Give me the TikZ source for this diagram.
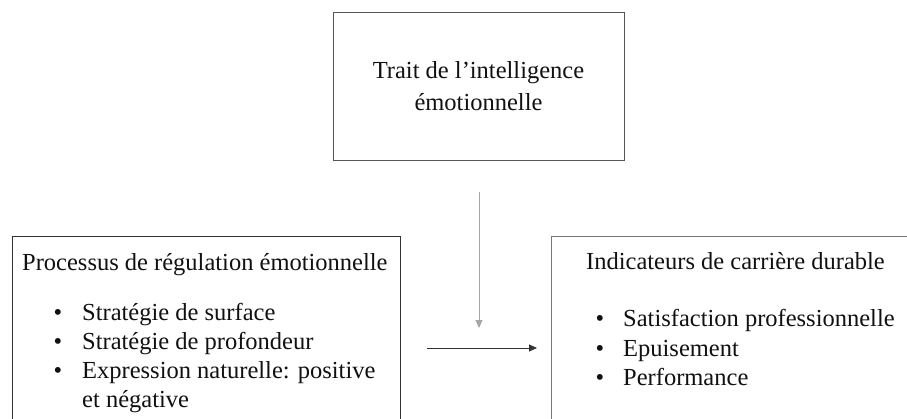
\documentclass[tikz,border=0pt]{standalone}
\usepackage{fontspec}
\setmainfont{Liberation Serif}
\usetikzlibrary{arrows.meta, positioning}
\definecolor{ink}{HTML}{111111}
\definecolor{framedark}{HTML}{333333}
\definecolor{framemid}{HTML}{555555}
\definecolor{framesoft}{HTML}{777777}
\definecolor{arrowsoft}{HTML}{A6A6A6}
\tikzset{
  font=\fontsize{24.5}{29}\selectfont,
  >={Triangle[length=8pt, width=7pt]},
  %
  panel/.style={draw=framemid, line width=1.2pt, fill=white, inner sep=0pt,
                anchor=north west},
  txt/.style={anchor=base west, inner sep=0pt, text=ink},
  dot/.style={txt, anchor=base},
  %
  flow/.style={draw=framedark, line width=0.9pt, ->},
  flowsoft/.style={flow, draw=arrowsoft},
}
\begin{document}
\begin{tikzpicture}[x=1pt, y=-1pt]
\clip (0,0) rectangle (907,418);

% ------------------------------------------------------------- frames
\node[panel, minimum width=291pt, minimum height=148pt] (trait) at (333,12) {};
\node[panel, draw=framedark, minimum width=388pt, minimum height=220pt] (proc) at (12,236) {};
\node[panel, draw=framesoft, minimum width=380pt, minimum height=220pt] (indic) at (551,236) {};

% ------------------------------------------------------------- trait
\node[txt, anchor=base] (trait1) at (478.5,78) {Trait de l’intelligence};
\node[txt, anchor=base] (trait2) at (478.5,110) {émotionnelle};

% ------------------------------------------------------------- processus
\node[txt] (proctitle) at (22,270) {Processus de régulation émotionnelle};
\foreach \item [count=\i] in {Stratégie de surface, Stratégie de profondeur,
                              Expression naturelle: positive} {
  \node[dot] (procdot\i) at (58, 291+29*\i) {\textbullet};
  \node[txt] (procitem\i) at (82, 291+29*\i) {\item};
}
\node[txt] (procitem4) at (82,407) {et négative};

% ------------------------------------------------------------- indicateurs
\node[txt] (indictitle) at (586,269) {Indicateurs de carrière durable};
\foreach \item [count=\i] in {Satisfaction professionnelle, Epuisement, Performance} {
  \node[dot] (indicdot\i) at (600, 297+29.5*\i) {\textbullet};
  \node[txt] (indicitem\i) at (623, 297+29.5*\i) {\item};
}

% ------------------------------------------------------------- arrows
\coordinate (down0) at (479,192);
\coordinate (down1) at (479,328);
\coordinate (right0) at (427,348);
\coordinate (right1) at (537,348);
\draw[flowsoft] (down0) -- (down1);
\draw[flow] (right0) -- (right1);

\end{tikzpicture}
\end{document}
